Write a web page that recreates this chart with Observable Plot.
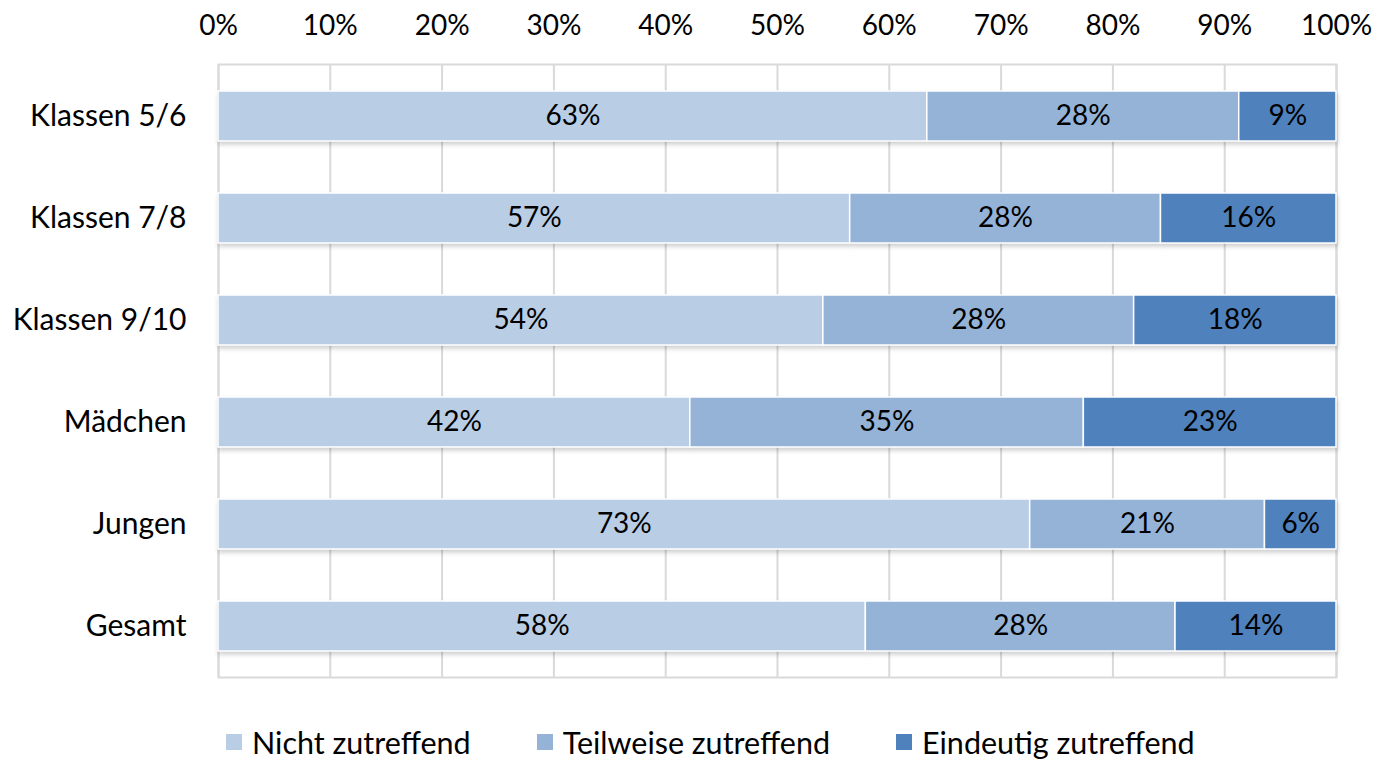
<!DOCTYPE html>
<html>
<head>
<meta charset="utf-8">
<script src="https://cdn.jsdelivr.net/npm/d3@7"></script>
<script src="https://cdn.jsdelivr.net/npm/@observablehq/plot@0.6"></script>
<style>
  body { margin: 0; background: #fff; font-family: Lato, "Open Sans", sans-serif; }
  #chart { position: relative; width: 1380px; }
  .legend { display: flex; align-items: center; font-size: 30.5px; color: #000; padding-left: 226px; margin-top: 24px; }
  .legend .item { display: flex; align-items: center; margin-right: 66px; }
  .legend .sw { width: 16px; height: 16px; margin-right: 10px; }
  g[aria-label="bar"] { filter: drop-shadow(1px 3px 2px rgba(0,0,0,0.18)); }
</style>
</head>
<body>
<div id="chart"></div>
<script>
const groups = ["Klassen 5/6", "Klassen 7/8", "Klassen 9/10", "Mädchen", "Jungen", "Gesamt"];
const categories = ["Nicht zutreffend", "Teilweise zutreffend", "Eindeutig zutreffend"];
const nicht = [63.4, 56.5, 54.1, 42.2, 72.6, 57.9];
const teilweise = [27.9, 27.8, 27.8, 35.2, 21.0, 27.7];
const eindeutig = [8.7, 15.7, 18.1, 22.6, 6.4, 14.4];
const xTicks = [0, 10, 20, 30, 40, 50, 60, 70, 80, 90, 100];
const colors = ["#B9CDE5", "#95B3D7", "#4F81BD"];

const series = [nicht, teilweise, eindeutig];
const data = [];
groups.forEach((g, i) => {
  categories.forEach((c, j) => data.push({group: g, cat: c, value: series[j][i]}));
});

const plot = Plot.plot({
  width: 1380,
  height: 700,
  marginLeft: 218,
  marginRight: 44,
  marginTop: 64,
  marginBottom: 23,
  style: {fontFamily: "Lato, 'Open Sans', sans-serif", fontSize: "28px", color: "#000", background: "#fff"},
  x: {domain: [0, 100]},
  y: {domain: groups, paddingInner: 0.51, paddingOuter: 0.255},
  color: {domain: categories, range: colors},
  marks: [
    Plot.ruleX(xTicks, {stroke: "#D9D9D9", strokeWidth: 2}),
    Plot.frame({stroke: "#D9D9D9", strokeWidth: 2}),
    Plot.barX(data, Plot.stackX({x: "value", y: "group", fill: "cat", stroke: "white", strokeWidth: 1.5, order: null})),
    Plot.text(data, Plot.stackX({x: "value", y: "group", z: "cat", order: null, text: d => Math.round(d.value) + "%", fill: "black", fontSize: 28})),
    Plot.axisX({anchor: "top", ticks: xTicks, tickFormat: d => d + "%", tickSize: 0, tickPadding: 30, fontSize: 28, label: null}),
    Plot.axisY({tickSize: 0, tickPadding: 32, fontSize: 30, label: null})
  ]
});
document.getElementById("chart").appendChild(plot);

const legend = d3.select("#chart").append("div").attr("class", "legend");
categories.forEach((c, j) => {
  const it = legend.append("div").attr("class", "item");
  it.append("div").attr("class", "sw").style("background", colors[j]);
  it.append("span").text(c);
});
</script>
</body>
</html>
